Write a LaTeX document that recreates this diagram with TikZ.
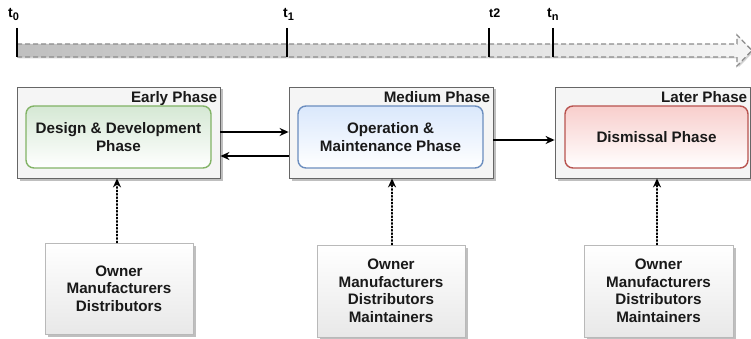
\documentclass[tikz,border=0pt]{standalone}
\usepackage{fontspec}
\setmainfont{Liberation Sans}
\usetikzlibrary{shadows,calc,arrows.meta}
\definecolor{outerfill}{HTML}{F5F5F5}
\definecolor{outerdraw}{HTML}{666666}
\definecolor{greenfill}{HTML}{D5E8D4}
\definecolor{greendraw}{HTML}{82B366}
\definecolor{bluefill}{HTML}{DAE8FC}
\definecolor{bluedraw}{HTML}{6C8EBF}
\definecolor{redfill}{HTML}{F8CECC}
\definecolor{reddraw}{HTML}{B85450}
\newcommand{\tsub}[1]{t\raisebox{-2.5pt}{\fontsize{11}{11}\selectfont #1}}
\tikzset{
  txt/.style={font=\bfseries\fontsize{15.2}{17.5}\selectfont, text=black!90},
  tlabel/.style={font=\bfseries\fontsize{14}{16}\selectfont, inner sep=0pt},
  outerbox/.style={draw=outerdraw, fill=outerfill, line width=0.8pt,
    drop shadow={shadow xshift=2.5pt, shadow yshift=-2.5pt, opacity=0.5, fill=gray}},
  innerbox/.style={rounded corners=8pt, line width=1.4pt, txt, align=center,
    minimum width=185pt, minimum height=62pt},
  partybox/.style={draw=gray!55, line width=0.8pt, top color=white, bottom color=gray!18,
    txt, align=center, minimum width=148pt, minimum height=91pt,
    drop shadow={shadow xshift=2.5pt, shadow yshift=-2.5pt, opacity=0.5, fill=gray}},
  phaselabel/.style={txt, anchor=base east, inner sep=0pt},
  conn/.style={line width=1.4pt, -{Stealth[length=9pt,width=8pt]}},
  dotconn/.style={line width=1.4pt, dotted, line cap=round, -{Stealth[length=9pt,width=8pt]}},
  tick/.style={line width=2.8pt}
}
\begin{document}
\begin{tikzpicture}[x=1pt,y=-1pt]
\useasboundingbox (0,0) rectangle (751,339);
% timeline band
\path[left color=gray!50, right color=gray!8, draw=gray!90, dashed,
  dash pattern=on 5pt off 3pt, line width=1.3pt,
  drop shadow={shadow xshift=1.5pt, shadow yshift=-1.5pt, opacity=0.35, fill=gray}]
  (17,44) -- (737,44) -- (737,35) -- (752,50.5) -- (737,66) -- (737,57) -- (17,57) -- cycle;
\draw[tick] (17,28) -- (17,57);
\draw[tick] (287,28) -- (287,57);
\draw[tick] (489,28) -- (489,57);
\draw[tick] (553,28) -- (553,57);
\node[tlabel, anchor=base west] (l0) at (8,18) {\tsub{0}};
\node[tlabel, anchor=base west] (l1) at (283,18) {\tsub{1}};
\node[tlabel, anchor=base west, font=\bfseries\fontsize{12.5}{14}\selectfont] (l2) at (489,18) {t2};
\node[tlabel, anchor=base west] (ln) at (547,18) {\tsub{n}};

% outer phase boxes
\node[outerbox, minimum width=203pt, minimum height=91pt] (eo) at (118.5,132.5) {};
\node[outerbox, minimum width=204pt, minimum height=91pt] (mo) at (391,132.5) {};
\node[outerbox, minimum width=195pt, minimum height=91pt] (lo) at (652.5,132.5) {};
\node[phaselabel] (el) at ($(eo.north east)+(-3,16)$) {Early Phase};
\node[phaselabel] (ml) at ($(mo.north east)+(-3,16)$) {Medium Phase};
\node[phaselabel] (ll) at ($(lo.north east)+(-3,16)$) {Later Phase};

% inner boxes
\node[innerbox, draw=greendraw, top color=greenfill, bottom color=white] (ei) at (118.5,137) {Design \& Development\\Phase};
\node[innerbox, draw=bluedraw, top color=bluefill, bottom color=white] (mi) at (390.5,137) {Operation \&\\Maintenance Phase};
\node[innerbox, draw=reddraw, top color=redfill, bottom color=white, minimum width=183pt] (li) at (656.5,137) {Dismissal Phase};

% connectors between phases
\draw[conn] (eo.east |- 0,132) -- (mo.west |- 0,132);
\draw[conn] (mo.west |- 0,156) -- (eo.east |- 0,156);
\draw[conn] (mo.east |- 0,140) -- (lo.west |- 0,140);

% stakeholder boxes
\node[partybox] (b1) at (119,288.5) {Owner\\Manufacturers\\Distributors};
\node[partybox, minimum height=92pt] (b2) at (391,291) {Owner\\Manufacturers\\Distributors\\Maintainers};
\node[partybox, minimum height=92pt, minimum width=149pt] (b3) at (658.5,291) {Owner\\Manufacturers\\Distributors\\Maintainers};

\draw[dotconn] (b1.north -| 117,0) -- (eo.south -| 117,0);
\draw[dotconn] (b2.north -| 392,0) -- (mo.south -| 392,0);
\draw[dotconn] (b3.north -| 657,0) -- (lo.south -| 657,0);
\end{tikzpicture}
\end{document}
